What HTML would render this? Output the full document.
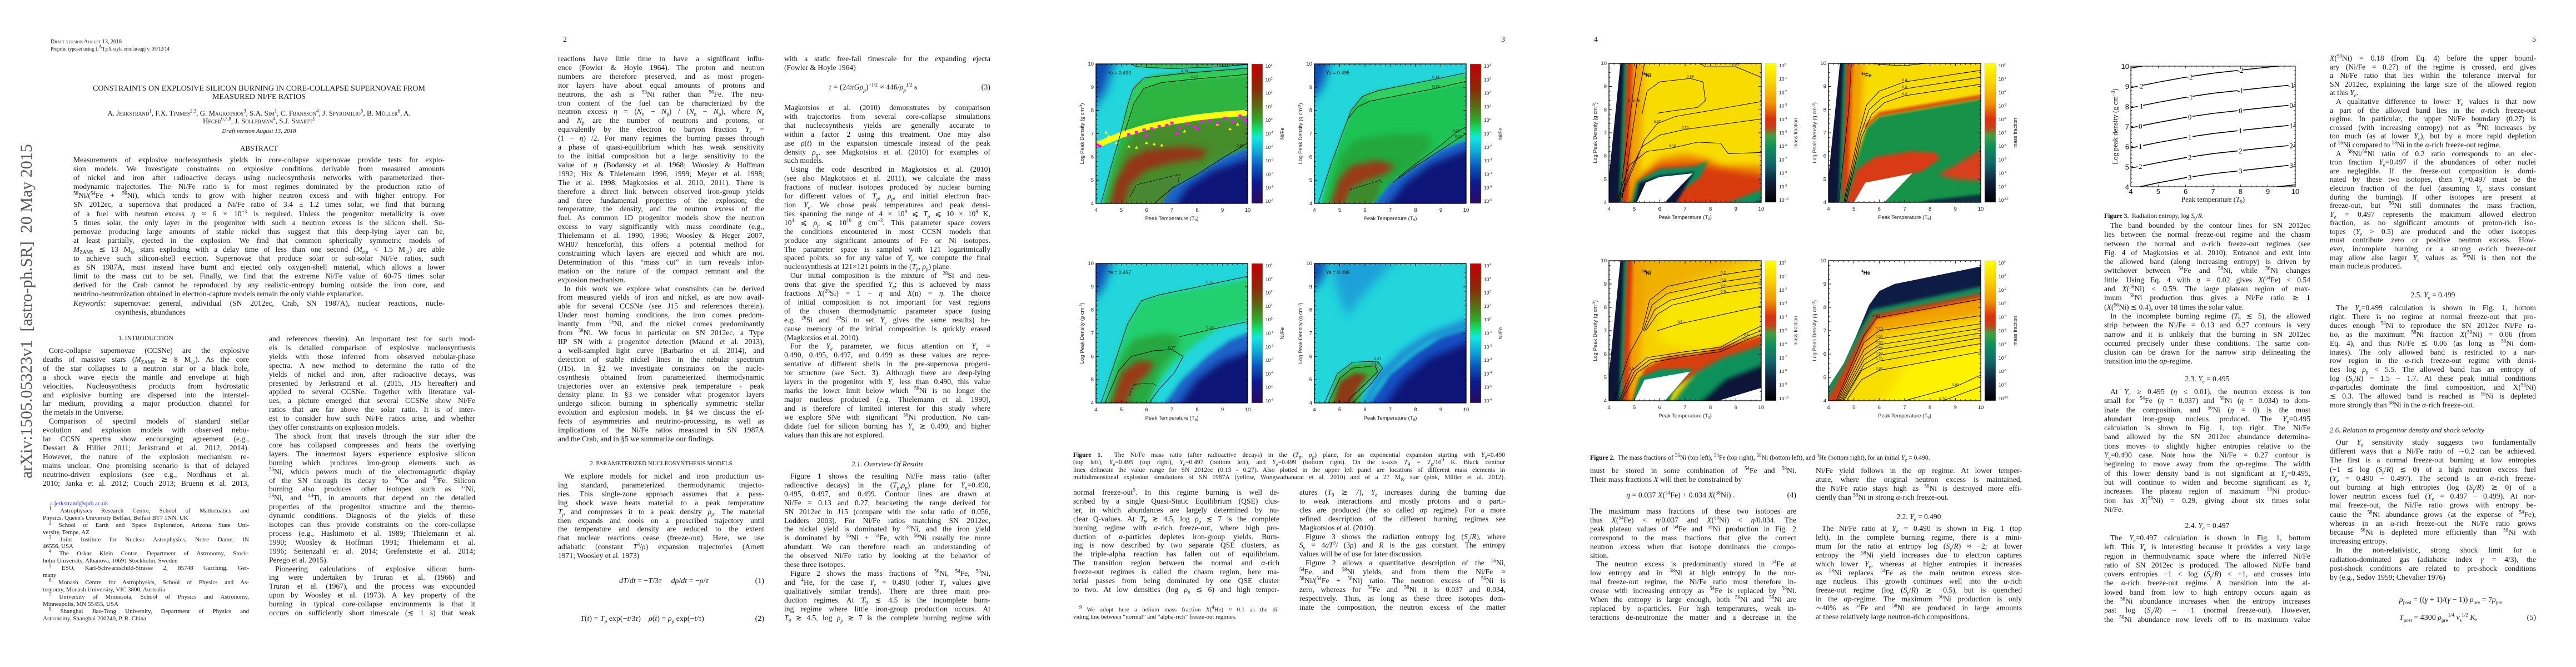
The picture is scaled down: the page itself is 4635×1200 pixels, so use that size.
<!DOCTYPE html>
<html><head><meta charset="utf-8">
<style>
body{margin:0;width:4635px;height:1200px;background:#fff;position:relative;overflow:hidden;font-family:"Liberation Serif",serif;color:#151515}
.c{position:absolute;width:371px;font-size:13.6px;line-height:15.9px;text-align:justify;text-align-last:justify}
.z{display:block;text-align-last:left}
.in{display:inline-block;width:11px}
.h{position:absolute;width:371px;text-align:center;font-size:12.5px;line-height:15px}
.cap{position:absolute;font-size:11.6px;line-height:13.4px;text-align:justify;text-align-last:justify}
.fn{position:absolute;width:371px;font-size:11px;line-height:12.9px;text-align:justify;text-align-last:justify}
.pn{position:absolute;top:64px;font-size:14px}
.eq{position:absolute;width:371px;font-size:14px;line-height:16px}
sup,sub{font-size:9px;line-height:0}
#charts{position:absolute;left:0;top:0;z-index:5}
</style></head><body>

<!-- ================= PAGE 1 ================= -->
<div>
<div style="position:absolute;left:48px;top:560px;transform:translate(-50%,-50%) rotate(-90deg);white-space:nowrap;font-size:30px;color:#555">arXiv:1505.05323v1&nbsp; [astro-ph.SR]&nbsp; 20 May 2015</div>
<div style="position:absolute;left:91px;top:70px;font-size:10px;line-height:12px;font-variant:small-caps">Draft version August 13, 2018<br><span style="font-size:9px;font-variant:normal">Preprint typeset using L<sup>A</sup>T<sub>E</sub>X style emulateapj v. 05/12/14</span></div>
<div style="position:absolute;left:0;width:932px;top:152px;text-align:center;font-size:14px;line-height:15px">CONSTRAINTS ON EXPLOSIVE SILICON BURNING IN CORE-COLLAPSE SUPERNOVAE FROM<br>MEASURED NI/FE RATIOS</div>
<div style="position:absolute;left:0;width:932px;top:197px;text-align:center;font-size:13px;line-height:13.5px;font-variant:small-caps">A. Jerkstrand<sup>1</sup>, F.X. Timmes<sup>2,3</sup>, G. Magkotsios<sup>3</sup>, S.A. Sim<sup>1</sup>, C. Fransson<sup>4</sup>, J. Spyromilio<sup>5</sup>, B. Müller<sup>6</sup>, A.<br>Heger<sup>6,7,8</sup>, J. Sollerman<sup>4</sup>, S.J. Smartt<sup>1</sup></div>
<div style="position:absolute;left:0;width:932px;top:230px;text-align:center;font-size:11px;font-style:italic">Draft version August 13, 2018</div>
<div style="position:absolute;left:0;width:932px;top:259px;text-align:center;font-size:13px">ABSTRACT</div>
<div class="c" style="left:132px;top:280px;width:668px;line-height:16.1px">Measurements of explosive nucleosynthesis yields in core-collapse supernovae provide tests for explo-<br>sion models. We investigate constraints on explosive conditions derivable from measured amounts<br>of nickel and iron after radioactive decays using nucleosynthesis networks with parameterized ther-<br>modynamic trajectories. The Ni/Fe ratio is for most regimes dominated by the production ratio of<br><sup>58</sup>Ni/(<sup>54</sup>Fe + <sup>56</sup>Ni), which tends to grow with higher neutron excess and with higher entropy. For<br>SN 2012ec, a supernova that produced a Ni/Fe ratio of 3.4 ± 1.2 times solar, we find that burning<br>of a fuel with neutron excess <i>η</i> ≈ 6 × 10<sup>−3</sup> is required. Unless the progenitor metallicity is over<br>5 times solar, the only layer in the progenitor with such a neutron excess is the silicon shell. Su-<br>pernovae producing large amounts of stable nickel thus suggest that this deep-lying layer can be,<br>at least partially, ejected in the explosion. We find that common spherically symmetric models of<br><i>M</i><sub>ZAMS</sub> ≲ 13 M<sub>⊙</sub> stars exploding with a delay time of less than one second (<i>M</i><sub>cut</sub> &lt; 1.5 M<sub>⊙</sub>) are able<br>to achieve such silicon-shell ejection. Supernovae that produce solar or sub-solar Ni/Fe ratios, such<br>as SN 1987A, must instead have burnt and ejected only oxygen-shell material, which allows a lower<br>limit to the mass cut to be set. Finally, we find that the extreme Ni/Fe value of 60-75 times solar<br>derived for the Crab cannot be reproduced by any realistic-entropy burning outside the iron core, and<br><span class="z">neutrino-neutronization obtained in electron-capture models remain the only viable explanation.</span><i>Keywords:</i> supernovae: general, individual (SN 2012ec, Crab, SN 1987A), nuclear reactions, nucle-<br><span class="z" style="padding-left:75px">osynthesis, abundances</span></div>
<div class="h" style="left:77px;top:602px;font-size:11.5px">1. INTRODUCTION</div>
<div class="c" style="left:77px;top:623px"><span class="in"></span>Core-collapse supernovae (CCSNe) are the explosive<br>deaths of massive stars (<i>M</i><sub>ZAMS</sub> ≳ 8 M<sub>⊙</sub>). As the core<br>of the star collapses to a neutron star or a black hole,<br>a shock wave ejects the mantle and envelope at high<br>velocities. Nucleosynthesis products from hydrostatic<br>and explosive burning are dispersed into the interstel-<br>lar medium, providing a major production channel for<br><span class="z">the metals in the Universe.</span><span class="in"></span>Comparison of spectral models of standard stellar<br>evolution and explosion models with observed nebu-<br>lar CCSN spectra show encouraging agreement (e.g.,<br>Dessart &amp; Hillier 2011; Jerkstrand et al. 2012, 2014).<br>However, the nature of the explosion mechanism re-<br>mains unclear. One promising scenario is that of delayed<br>neutrino-driven explosions (see e.g., Nordhaus et al.<br>2010; Janka et al. 2012; Couch 2013; Bruenn et al. 2013,</div>
<div class="fn" style="left:77px;top:900px"><span class="z" style="color:#2233bb;padding-left:13px">a.jerkstrand@qub.ac.uk</span><span class="in"></span><sup>1</sup> Astrophysics Research Centre, School of Mathematics and<br><span class="z">Physics, Queen's University Belfast, Belfast BT7 1NN, UK</span><span class="in"></span><sup>2</sup> School of Earth and Space Exploration, Arizona State Uni-<br><span class="z">versity, Tempe, AZ</span><span class="in"></span><sup>3</sup> Joint Institute for Nuclear Astrophysics, Notre Dame, IN<br><span class="z">46556, USA</span><span class="in"></span><sup>4</sup> The Oskar Klein Centre, Department of Astronomy, Stock-<br><span class="z">holm University, Albanova, 10691 Stockholm, Sweden</span><span class="in"></span><sup>5</sup> ESO, Karl-Schwarzschild-Strasse 2, 85748 Garching, Ger-<br><span class="z">many</span><span class="in"></span><sup>6</sup> Monash Centre for Astrophysics, School of Physics and As-<br><span class="z">tronomy, Monash University, VIC 3800, Australia</span><span class="in"></span><sup>7</sup> University of Minnesota, School of Physics and Astronomy,<br><span class="z">Minneapolis, MN 55455, USA</span><span class="in"></span><sup>8</sup> Shanghai Jiao-Tong University, Department of Physics and<br><span class="z">Astronomy, Shanghai 200240, P. R. China</span></div>
<div class="c" style="left:484px;top:602px">and references therein). An important test for such mod-<br>els is detailed comparison of explosive nucleosynthesis<br>yields with those inferred from observed nebular-phase<br>spectra. A new method to determine the ratio of the<br>yields of nickel and iron, after radioactive decays, was<br>presented by Jerkstrand et al. (2015, J15 hereafter) and<br>applied to several CCSNe. Together with literature val-<br>ues, a picture emerged that several CCSNe show Ni/Fe<br>ratios that are far above the solar ratio. It is of inter-<br>est to consider how such Ni/Fe ratios arise, and whether<br><span class="z">they offer constraints on explosion models.</span><span class="in"></span>The shock front that travels through the star after the<br>core has collapsed compresses and heats the overlying<br>layers. The innermost layers experience explosive silicon<br>burning which produces iron-group elements such as<br><sup>56</sup>Ni, which powers much of the electromagnetic display<br>of the SN through its decay to <sup>56</sup>Co and <sup>56</sup>Fe. Silicon<br>burning also produces other isotopes such as <sup>57</sup>Ni,<br><sup>58</sup>Ni, and <sup>44</sup>Ti, in amounts that depend on the detailed<br>properties of the progenitor structure and the thermo-<br>dynamic conditions. Diagnosis of the yields of these<br>isotopes can thus provide constraints on the core-collapse<br>process (e.g., Hashimoto et al. 1989; Thielemann et al.<br>1990; Woosley &amp; Hoffman 1991; Thielemann et al.<br>1996; Seitenzahl et al. 2014; Grefenstette et al. 2014;<br><span class="z">Perego et al. 2015).</span><span class="in"></span>Pioneering calculations of explosive silicon burn-<br>ing were undertaken by Truran et al. (1966) and<br>Truran et al. (1967), and the process was expounded<br>upon by Woosley et al. (1973). A key property of the<br>burning in typical core-collapse environments is that it<br>occurs on sufficiently short timescale (≲ 1 s) that weak</div>
</div>

<!-- ================= PAGE 2 ================= -->
<div>
<div class="pn" style="left:1013px">2</div>
<div class="c" style="left:1004px;top:98px">reactions have little time to have a significant influ-<br>ence (Fowler &amp; Hoyle 1964). The proton and neutron<br>numbers are therefore preserved, and as most progen-<br>itor layers have about equal amounts of protons and<br>neutrons, the ash is <sup>56</sup>Ni rather than <sup>56</sup>Fe. The neu-<br>tron content of the fuel can be characterized by the<br>neutron excess <i>η</i> = (<i>N</i><sub>n</sub> − <i>N</i><sub>p</sub>) / (<i>N</i><sub>n</sub> + <i>N</i><sub>p</sub>), where <i>N</i><sub>n</sub><br>and <i>N</i><sub>p</sub> are the number of neutrons and protons, or<br>equivalently by the electron to baryon fraction <i>Y<sub>e</sub></i> =<br>(1 − <i>η</i>) /2. For many regimes the burning passes through<br>a phase of quasi-equilibrium which has weak sensitivity<br>to the initial composition but a large sensitivity to the<br>value of <i>η</i> (Bodansky et al. 1968; Woosley &amp; Hoffman<br>1992; Hix &amp; Thielemann 1996, 1999; Meyer et al. 1998;<br>The et al. 1998; Magkotsios et al. 2010, 2011). There is<br>therefore a direct link between observed iron-group yields<br>and three fundamental properties of the explosion; the<br>temperature, the density, and the neutron excess of the<br>fuel. As common 1D progenitor models show the neutron<br>excess to vary significantly with mass coordinate (e.g.,<br>Thielemann et al. 1990, 1996; Woosley &amp; Heger 2007,<br>WH07 henceforth), this offers a potential method for<br>constraining which layers are ejected and which are not.<br>Determination of this “mass cut” in turn reveals infor-<br>mation on the nature of the compact remnant and the<br><span class="z">explosion mechanism.</span><span class="in"></span>In this work we explore what constraints can be derived<br>from measured yields of iron and nickel, as are now avail-<br>able for several CCSNe (see J15 and references therein).<br>Under most burning conditions, the iron comes predom-<br>inantly from <sup>56</sup>Ni, and the nickel comes predominantly<br>from <sup>58</sup>Ni. We focus in particular on SN 2012ec, a Type<br>IIP SN with a progenitor detection (Maund et al. 2013),<br>a well-sampled light curve (Barbarino et al. 2014), and<br>detection of stable nickel lines in the nebular spectrum<br>(J15). In §2 we investigate constraints on the nucle-<br>osynthesis obtained from parameterized thermodynamic<br>trajectories over an extensive peak temperature - peak<br>density plane. In §3 we consider what progenitor layers<br>undergo silicon burning in spherically symmetric stellar<br>evolution and explosion models. In §4 we discuss the ef-<br>fects of asymmetries and neutrino-processing, as well as<br>implications of the Ni/Fe ratios measured in SN 1987A<br><span class="z">and the Crab, and in §5 we summarize our findings.</span></div>
<div class="h" style="left:1004px;top:827px;font-size:11px">2. PARAMETERIZED NUCLEOSYNTHESIS MODELS</div>
<div class="c" style="left:1004px;top:849px"><span class="in"></span>We explore models for nickel and iron production us-<br>ing standard, parameterized thermodynamic trajecto-<br>ries. This single-zone approach assumes that a pass-<br>ing shock wave heats material to a peak temperature<br><i>T<sub>p</sub></i> and compresses it to a peak density <i>ρ<sub>p</sub></i>. The material<br>then expands and cools on a prescribed trajectory until<br>the temperature and density are reduced to the extent<br>that nuclear reactions cease (freeze-out). Here, we use<br>adiabatic (constant <i>T</i><sup>3</sup>/<i>ρ</i>) expansion trajectories (Arnett<br><span class="z">1971; Woosley et al. 1973)</span></div>
<div class="eq" style="left:1004px;top:1038px"><span style="position:absolute;left:110px"><i>dT</i>/<i>dt</i> = −<i>T</i>/3<i>τ</i> &nbsp;&nbsp;&nbsp; <i>dρ</i>/<i>dt</i> = −<i>ρ</i>/<i>τ</i></span><span style="position:absolute;right:0">(1)</span></div>
<div class="eq" style="left:1004px;top:1106px"><span style="position:absolute;left:40px"><i>T</i>(<i>t</i>) = <i>T<sub>p</sub></i> exp(−<i>t</i>/3<i>τ</i>) &nbsp;&nbsp; <i>ρ</i>(<i>t</i>) = <i>ρ<sub>p</sub></i> exp(−<i>t</i>/<i>τ</i>)</span><span style="position:absolute;right:0">(2)</span></div>
<div class="c" style="left:1411px;top:98px">with a static free-fall timescale for the expanding ejecta<br><span class="z">(Fowler &amp; Hoyle 1964)</span></div>
<div class="eq" style="left:1411px;top:150px"><span style="position:absolute;left:80px"><i>τ</i> = (24<i>πGρ<sub>p</sub></i>)<sup>−1/2</sup> ≈ 446/<i>ρ<sub>p</sub></i><sup>1/2</sup> s</span><span style="position:absolute;right:0">(3)</span></div>
<div class="c" style="left:1411px;top:186px">Magkotsios et al. (2010) demonstrates by comparison<br>with trajectories from several core-collapse simulations<br>that nucleosynthesis yields are generally accurate to<br>within a factor 2 using this treatment. One may also<br>use <i>ρ</i>(<i>t</i>) in the expansion timescale instead of the peak<br>density <i>ρ<sub>p</sub></i>, see Magkotsios et al. (2010) for examples of<br><span class="z">such models.</span><span class="in"></span>Using the code described in Magkotsios et al. (2010)<br>(see also Magkotsios et al. 2011), we calculate the mass<br>fractions of nuclear isotopes produced by nuclear burning<br>for different values of <i>T<sub>p</sub></i>, <i>ρ<sub>p</sub></i>, and initial electron frac-<br>tion <i>Y<sub>e</sub></i>. We chose peak temperatures and peak densi-<br>ties spanning the range of 4 × 10<sup>9</sup> ⩽ <i>T<sub>p</sub></i> ⩽ 10 × 10<sup>9</sup> K,<br>10<sup>4</sup> ⩽ <i>ρ<sub>p</sub></i> ⩽ 10<sup>10</sup> g cm<sup>−3</sup>. This parameter space covers<br>the conditions encountered in most CCSN models that<br>produce any significant amounts of Fe or Ni isotopes.<br>The parameter space is sampled with 121 logaritmically<br>spaced points, so for any value of <i>Y<sub>e</sub></i> we compute the final<br><span class="z">nucleosynthesis at 121×121 points in the (<i>T<sub>p</sub></i>, <i>ρ<sub>p</sub></i>) plane.</span><span class="in"></span>Our initial composition is the mixture of <sup>28</sup>Si and neu-<br>trons that give the specified <i>Y<sub>e</sub></i>; this is achieved by mass<br>fractions <i>X</i>(<sup>28</sup>Si) = 1 − <i>η</i> and <i>X</i>(n) = <i>η</i>. The choice<br>of initial composition is not important for vast regions<br>of the chosen thermodynamic parameter space (using<br>e.g. <sup>28</sup>Si and <sup>29</sup>Si to set <i>Y<sub>e</sub></i> gives the same results) be-<br>cause memory of the initial composition is quickly erased<br><span class="z">(Magkotsios et al. 2010).</span><span class="in"></span>For the <i>Y<sub>e</sub></i> parameter, we focus attention on <i>Y<sub>e</sub></i> =<br>0.490, 0.495, 0.497, and 0.499 as these values are repre-<br>sentative of different shells in the pre-supernova progeni-<br>tor structure (see Sect. 3). Although there are deep-lying<br>layers in the progenitor with <i>Y<sub>e</sub></i> less than 0.490, this value<br>marks the lower limit below which <sup>56</sup>Ni is no longer the<br>major nucleus produced (e.g. Thielemann et al. 1990),<br>and is therefore of limited interest for this study where<br>we explore SNe with significant <sup>56</sup>Ni production. No can-<br>didate fuel for silicon burning has <i>Y<sub>e</sub></i> ≳ 0.499, and higher<br><span class="z">values than this are not explored.</span></div>
<div class="h" style="left:1411px;top:827px;font-style:italic;font-size:13px">2.1. Overview Of Results</div>
<div class="c" style="left:1411px;top:849px"><span class="in"></span>Figure 1 shows the resulting Ni/Fe mass ratio (after<br>radioactive decays) in the (<i>T<sub>p</sub></i>,<i>ρ<sub>p</sub></i>) plane for <i>Y<sub>e</sub></i>=0.490,<br>0.495, 0.497, and 0.499. Contour lines are drawn at<br>Ni/Fe = 0.13 and 0.27, bracketing the range derived for<br>SN 2012ec in J15 (compare with the solar ratio of 0.056,<br>Lodders 2003). For Ni/Fe ratios matching SN 2012ec,<br>the nickel yield is dominated by <sup>58</sup>Ni, and the iron yield<br>is dominated by <sup>56</sup>Ni + <sup>54</sup>Fe, with <sup>56</sup>Ni usually the more<br>abundant. We can therefore reach an understanding of<br>the observed Ni/Fe ratio by looking at the behavior of<br><span class="z">these three isotopes.</span><span class="in"></span>Figure 2 shows the mass fractions of <sup>56</sup>Ni, <sup>54</sup>Fe, <sup>58</sup>Ni,<br>and <sup>4</sup>He, for the case <i>Y<sub>e</sub></i> = 0.490 (other <i>Y<sub>e</sub></i> values give<br>qualitatively similar trends). There are three main pro-<br>duction regimes. At <i>T</i><sub>9</sub> ≲ 4.5 is the incomplete burn-<br>ing regime where little iron-group production occurs. At<br><i>T</i><sub>9</sub> ≳ 4.5, log <i>ρ<sub>p</sub></i> ≳ 7 is the complete burning regime with</div>
</div>

<!-- ================= PAGE 3 ================= -->
<div>
<div class="pn" style="left:2701px">3</div>
<div class="cap" style="left:1931px;top:812px;width:777px"><b>Figure 1.</b>&nbsp; The Ni/Fe mass ratio (after radioactive decays) in the (<i>T<sub>p</sub></i>, <i>ρ<sub>p</sub></i>) plane, for an exponential expansion starting with <i>Y<sub>e</sub></i>=0.490<br>(top left), <i>Y<sub>e</sub></i>=0.495 (top right), <i>Y<sub>e</sub></i>=0.497 (bottom left), and <i>Y<sub>e</sub></i>=0.499 (bottom right). On the x-axis <i>T</i><sub>9</sub> = <i>T<sub>p</sub></i>/10<sup>9</sup> K. Black contour<br>lines delineate the value range for SN 2012ec (0.13 - 0.27). Also plotted in the upper left panel are locations of different mass elements in<br>multidimensional explosion simulations of SN 1987A (yellow, Wongwathanarat et al. 2010) and of a 27 M<sub>⊙</sub> star (pink, Müller et al. 2012).</div>
<div class="c" style="left:1931px;top:878px">normal freeze-out<sup style="color:#2233bb">9</sup>. In this regime burning is well de-<br>scribed by a single Quasi-Static Equilibrium (QSE) clus-<br>ter, in which abundances are largely determined by nu-<br>clear Q-values. At <i>T</i><sub>9</sub> ≳ 4.5, log <i>ρ<sub>p</sub></i> ≲ 7 is the complete<br>burning regime with <i>α</i>-rich freeze-out, where high pro-<br>duction of <i>α</i>-particles depletes iron-group yields. Burn-<br>ing is now described by two separate QSE clusters, as<br>the triple-alpha reaction has fallen out of equilibrium.<br>The transition region between the normal and <i>α</i>-rich<br>freeze-out regimes is called the chasm region, here ma-<br>terial passes from being dominated by one QSE cluster<br>to two. At low densities (log <i>ρ<sub>p</sub></i> ≲ 6) and high temper-</div>
<div class="fn" style="left:1931px;top:1091px"><span class="in"></span><sup>9</sup> We adopt here a helium mass fraction <i>X</i>(<sup>4</sup>He) ≈ 0.1 as the di-<br><span class="z">viding line between “normal” and “alpha-rich” freeze-out regimes.</span></div>
<div class="c" style="left:2338px;top:878px">atures (<i>T</i><sub>9</sub> ≳ 7), <i>Y<sub>e</sub></i> increases during the burning due<br>to weak interactions and mostly protons and <i>α</i> parti-<br>cles are produced (the so called <i>αp</i> regime). For a more<br>refined description of the different burning regimes see<br><span class="z">Magkotsios et al. (2010).</span><span class="in"></span>Figure 3 shows the radiation entropy log (<i>S<sub>γ</sub></i>/<i>R</i>), where<br><i>S<sub>γ</sub></i> = 4<i>aT</i><sup>3</sup>/ (3<i>ρ</i>) and <i>R</i> is the gas constant. The entropy<br><span class="z">values will be of use for later discussion.</span><span class="in"></span>Figure 2 allows a quantitative description of the <sup>56</sup>Ni,<br><sup>54</sup>Fe, and <sup>58</sup>Ni yields, and from them the Ni/Fe ≈<br><sup>58</sup>Ni/(<sup>54</sup>Fe + <sup>56</sup>Ni) ratio. The neutron excess of <sup>56</sup>Ni is<br>zero, whereas for <sup>54</sup>Fe and <sup>58</sup>Ni it is 0.037 and 0.034,<br>respectively. Thus, as long as these three isotopes dom-<br>inate the composition, the neutron excess of the matter</div>
</div>

<!-- ================= PAGE 4 ================= -->
<div>
<div class="pn" style="left:2868px">4</div>
<div class="cap" style="left:2861px;top:817px;width:800px;text-align-last:left"><b>Figure 2.</b>&nbsp; The mass fractions of <sup>56</sup>Ni (top left), <sup>54</sup>Fe (top right), <sup>58</sup>Ni (bottom left), and <sup>4</sup>He (bottom right), for an initial <i>Y<sub>e</sub></i> = 0.490.</div>
<div class="c" style="left:2861px;top:839px">must be stored in some combination of <sup>54</sup>Fe and <sup>58</sup>Ni.<br><span class="z">Their mass fractions <i>X</i> will then be constrained by</span></div>
<div class="eq" style="left:2861px;top:884px"><span style="position:absolute;left:65px"><i>η</i> = 0.037 <i>X</i>(<sup>54</sup>Fe) + 0.034 <i>X</i>(<sup>58</sup>Ni) .</span><span style="position:absolute;right:0">(4)</span></div>
<div class="c" style="left:2861px;top:912px">The maximum mass fractions of these two isotopes are<br>thus <i>X</i>(<sup>54</sup>Fe) &lt; <i>η</i>/0.037 and <i>X</i>(<sup>58</sup>Ni) &lt; <i>η</i>/0.034. The<br>peak plateau values of <sup>54</sup>Fe and <sup>58</sup>Ni production in Fig. 2<br>correspond to the mass fractions that give the correct<br>neutron excess when that isotope dominates the compo-<br><span class="z">sition.</span><span class="in"></span>The neutron excess is predominantly stored in <sup>54</sup>Fe at<br>low entropy and in <sup>58</sup>Ni at high entropy. In the nor-<br>mal freeze-out regime, the Ni/Fe ratio must therefore in-<br>crease with increasing entropy as <sup>54</sup>Fe is replaced by <sup>58</sup>Ni.<br>When the entropy is large enough, both <sup>56</sup>Ni and <sup>58</sup>Ni are<br>replaced by <i>α</i>-particles. For high temperatures, weak in-<br>teractions de-neutronize the matter and a decrease in the</div>
<div class="c" style="left:3267px;top:839px">Ni/Fe yield follows in the <i>αp</i> regime. At lower temper-<br>ature, where the original neutron excess is maintained,<br>the Ni/Fe ratio stays high as <sup>56</sup>Ni is destroyed more effi-<br><span class="z">ciently than <sup>58</sup>Ni in strong <i>α</i>-rich freeze-out.</span></div>
<div class="h" style="left:3267px;top:922px;font-size:13.5px">2.2. <i>Y<sub>e</sub></i> = 0.490</div>
<div class="c" style="left:3267px;top:943px"><span class="in"></span>The Ni/Fe ratio at <i>Y<sub>e</sub></i> = 0.490 is shown in Fig. 1 (top<br>left). In the complete burning regime, there is a mini-<br>mum for the ratio at entropy log (<i>S<sub>γ</sub></i>/<i>R</i>) ≈ −2; at lower<br>entropy the <sup>58</sup>Ni yield increases due to electron captures<br>which lower <i>Y<sub>e</sub></i>, whereas at higher entropies it increases<br>as <sup>58</sup>Ni replaces <sup>54</sup>Fe as the main neutron excess stor-<br>age nucleus. This growth continues well into the <i>α</i>-rich<br>freeze-out regime (log (<i>S<sub>γ</sub></i>/<i>R</i>) ≳ +0.5), but is quenched<br>in the <i>αp</i>-regime. The maximum <sup>56</sup>Ni production is only<br>∼40% as <sup>54</sup>Fe and <sup>58</sup>Ni are produced in large amounts<br><span class="z">at these relatively large neutron-rich compositions.</span></div>
</div>

<!-- ================= PAGE 5 ================= -->
<div>
<div class="pn" style="left:4556px">5</div>
<div class="cap" style="left:3786px;top:382px;width:371px;text-align-last:left"><b>Figure 3.</b>&nbsp; Radiation entropy, log <i>S<sub>γ</sub></i>/<i>R</i>.</div>
<div class="c" style="left:3786px;top:398px;line-height:16.3px"><span class="in"></span>The band bounded by the contour lines for SN 2012ec<br>lies between the normal freeze-out regime and the chasm<br>between the normal and <i>α</i>-rich freeze-out regimes (see<br>Fig. 4 of Magkotsios et al. 2010). Entrance and exit into<br>the allowed band (along increasing entropy) is driven by<br>switchover between <sup>54</sup>Fe and <sup>58</sup>Ni, while <sup>56</sup>Ni changes<br>little. Using Eq. 4 with <i>η</i> = 0.02 gives <i>X</i>(<sup>54</sup>Fe) &lt; 0.54<br>and <i>X</i>(<sup>58</sup>Ni) &lt; 0.59. The large plateau region of max-<br>imum <sup>58</sup>Ni production thus gives a Ni/Fe ratio ≳ <b>1</b><br><span class="z">(<i>X</i>(<sup>56</sup>Ni) ≲ 0.4), over 18 times the solar value.</span><span class="in"></span>In the incomplete burning regime (<i>T</i><sub>9</sub> ≲ 5), the allowed<br>strip between the Ni/Fe = 0.13 and 0.27 contours is very<br>narrow and it is unlikely that the burning in SN 2012ec<br>occurred precisely under these conditions. The same con-<br>clusion can be drawn for the narrow strip delineating the<br><span class="z">transition into the <i>αp</i>-regime.</span></div>
<div class="h" style="left:3786px;top:674px;font-size:13.5px">2.3. <i>Y<sub>e</sub></i> = 0.495</div>
<div class="c" style="left:3786px;top:697px;line-height:16.3px"><span class="in"></span>At <i>Y<sub>e</sub></i> ≥ 0.495 (<i>η</i> ≤ 0.01), the neutron excess is too<br>small for <sup>54</sup>Fe (<i>η</i> = 0.037) and <sup>58</sup>Ni (<i>η</i> = 0.034) to dom-<br>inate the composition, and <sup>56</sup>Ni (<i>η</i> = 0) is the most<br>abundant iron-group nucleus produced. The <i>Y<sub>e</sub></i>=0.495<br>calculation is shown in Fig. 1, top right. The Ni/Fe<br>band allowed by the SN 2012ec abundance determina-<br>tions moves to slightly higher entropies relative to the<br><i>Y<sub>e</sub></i>=0.490 case. Note how the Ni/Fe = 0.27 contour is<br>beginning to move away from the <i>αp</i>-regime. The width<br>of this lower density band is not significant at <i>Y<sub>e</sub></i>=0.495,<br>but will continue to widen and become significant as <i>Y<sub>e</sub></i><br>increases. The plateau region of maximum <sup>58</sup>Ni produc-<br>tion has <i>X</i>(<sup>58</sup>Ni) = 0.29, giving about six times solar<br><span class="z">Ni/Fe.</span></div>
<div class="h" style="left:3786px;top:938px;font-size:13.5px">2.4. <i>Y<sub>e</sub></i> = 0.497</div>
<div class="c" style="left:3786px;top:960px;line-height:16.3px"><span class="in"></span>The <i>Y<sub>e</sub></i>=0.497 calculation is shown in Fig. 1, bottom<br>left. This <i>Y<sub>e</sub></i> is interesting because it provides a very large<br>region in thermodynamic space where the inferred Ni/Fe<br>ratio of SN 2012ec is produced. The allowed Ni/Fe band<br>covers entropies −1 &lt; log (<i>S<sub>γ</sub></i>/<i>R</i>) &lt; +1, and crosses into<br>the <i>α</i>-rich freeze-out regime. A transition into the al-<br>lowed band from low to high entropy occurs again as<br>the <sup>58</sup>Ni abundance increases when the entropy increases<br>past log (<i>S<sub>γ</sub></i>/<i>R</i>) ∼ −1 (normal freeze-out). However,<br>the <sup>58</sup>Ni abundance now levels off to its maximum value</div>
<div class="c" style="left:4192px;top:97px;line-height:15.6px"><i>X</i>(<sup>58</sup>Ni) = 0.18 (from Eq. 4) before the upper bound-<br>ary (Ni/Fe = 0.27) of the regime is crossed, and gives<br>a Ni/Fe ratio that lies within the tolerance interval for<br>SN 2012ec, explaining the large size of the allowed region<br><span class="z">at this <i>Y<sub>e</sub></i>.</span><span class="in"></span>A qualitative difference to lower <i>Y<sub>e</sub></i> values is that now<br>a part of the allowed band lies in the <i>α</i>-rich freeze-out<br>regime. In particular, the upper Ni/Fe boundary (0.27) is<br>crossed (with increasing entropy) not as <sup>58</sup>Ni increases by<br>too much (as at lower <i>Y<sub>e</sub></i>), but by a more rapid depletion<br><span class="z">of <sup>56</sup>Ni compared to <sup>58</sup>Ni in the <i>α</i>-rich freeze-out regime.</span><span class="in"></span>A <sup>58</sup>Ni/<sup>56</sup>Ni ratio of 0.2 ratio corresponds to an elec-<br>tron fraction <i>Y<sub>e</sub></i>=0.497 if the abundances of other nuclei<br>are neglegible. If the freeze-out composition is domi-<br>nated by these two isotopes, then <i>Y<sub>e</sub></i>=0.497 must be the<br>electron fraction of the fuel (assuming <i>Y<sub>e</sub></i> stays constant<br>during the burning). If other isotopes are present at<br>freeze-out, but <sup>56</sup>Ni still dominates the mass fraction,<br><i>Y<sub>e</sub></i> = 0.497 represents the maximum allowed electron<br>fraction, as no significant amounts of proton-rich iso-<br>topes (<i>Y<sub>e</sub></i> &gt; 0.5) are produced and the other isotopes<br>must contribute zero or positive neutron excess. How-<br>ever, incomplete burning or a strong <i>α</i>-rich freeze-out<br>may allow also larger <i>Y<sub>e</sub></i> values as <sup>56</sup>Ni is then not the<br><span class="z">main nucleus produced.</span></div>
<div class="h" style="left:4192px;top:523px;font-size:13.5px">2.5. <i>Y<sub>e</sub></i> = 0.499</div>
<div class="c" style="left:4192px;top:546px"><span class="in"></span>The <i>Y<sub>e</sub></i>=0.499 calculation is shown in Fig. 1, bottom<br>right. There is no regime at normal freeze-out that pro-<br>duces enough <sup>58</sup>Ni to reproduce the SN 2012ec Ni/Fe ra-<br>tio, as the maximum <sup>58</sup>Ni fraction <i>X</i>(<sup>58</sup>Ni) = 0.06 (from<br>Eq. 4), and thus Ni/Fe ≲ 0.06 (as long as <sup>56</sup>Ni dom-<br>inates). The only allowed band is restricted to a nar-<br>row region in the <i>α</i>-rich freeze-out regime with densi-<br>ties log <i>ρ<sub>p</sub></i> &lt; 5.5. The allowed band has an entropy of<br>log (<i>S<sub>γ</sub></i>/<i>R</i>) = 1.5 − 1.7. At these peak initial conditions<br><i>α</i>-particles dominate the final composition, and X(<sup>56</sup>Ni)<br>≲ 0.3. The allowed band is reached as <sup>56</sup>Ni is depleted<br><span class="z">more strongly than <sup>58</sup>Ni in the <i>α</i>-rich freeze-out.</span></div>
<div class="h" style="left:4192px;top:766px;font-style:italic;font-size:13px;text-align:left">2.6. Relation to progenitor density and shock velocity</div>
<div class="c" style="left:4192px;top:788px;line-height:16.2px"><span class="in"></span>Our <i>Y<sub>e</sub></i> sensitivity study suggests two fundamentally<br>different ways that a Ni/Fe ratio of ∼0.2 can be achieved.<br>The first is a normal freeze-out burning at low entropies<br>(−1 ≲ log (<i>S<sub>γ</sub></i>/<i>R</i>) ≲ 0) of a high neutron excess fuel<br>(<i>Y<sub>e</sub></i> = 0.490 − 0.497). The second is an <i>α</i>-rich freeze-<br>out burning at high entropies (log (<i>S<sub>γ</sub></i>/<i>R</i>) ≳ 0) of a<br>lower neutron excess fuel (<i>Y<sub>e</sub></i> = 0.497 − 0.499). At nor-<br>mal freeze-out, the Ni/Fe ratio grows with entropy be-<br>cause the <sup>58</sup>Ni abundance grows (at the expense of <sup>54</sup>Fe),<br>whereas in an <i>α</i>-rich freeze-out the Ni/Fe ratio grows<br>because <sup>56</sup>Ni is depleted more efficiently than <sup>58</sup>Ni with<br><span class="z">increasing entropy.</span><span class="in"></span>In the non-relativistic, strong shock limit for a<br>radiation-dominated gas (adiabatic index <i>γ</i> = 4/3), the<br>post-shock conditions are related to pre-shock conditions<br><span class="z">by (e.g., Sedov 1959; Chevalier 1976)</span></div>
<div class="eq" style="left:4192px;top:1072px"><span style="position:absolute;left:125px"><i>ρ</i><sub>post</sub> = ((<i>γ</i> + 1)/(<i>γ</i> − 1)) <i>ρ</i><sub>pre</sub> = 7<i>ρ</i><sub>pre</sub></span></div>
<div class="eq" style="left:4192px;top:1104px"><span style="position:absolute;left:125px"><i>T</i><sub>post</sub> = 4300 <i>ρ</i><sub>pre</sub><sup>1/4</sup> <i>v</i><sub>s</sub><sup>1/2</sup> <i>K</i>,</span><span style="position:absolute;right:0">(5)</span></div>
</div>

<svg id="charts" width="4635" height="1200" viewBox="0 0 4635 1200" xmlns="http://www.w3.org/2000/svg">
<defs>
<linearGradient id="cbNiFe" x1="0" y1="0" x2="0" y2="1">
<stop offset="0" stop-color="#c40000"/><stop offset="0.18" stop-color="#8a2a08"/><stop offset="0.3" stop-color="#5a6a14"/><stop offset="0.4" stop-color="#30a828"/><stop offset="0.47" stop-color="#10e070"/><stop offset="0.53" stop-color="#10e8e0"/><stop offset="0.63" stop-color="#10a8d8"/><stop offset="0.73" stop-color="#0a5cc0"/><stop offset="0.85" stop-color="#0c1a8c"/><stop offset="1" stop-color="#2a0a60"/>
</linearGradient>
<linearGradient id="cbMass" x1="0" y1="0" x2="0" y2="1">
<stop offset="0" stop-color="#ffff00"/><stop offset="0.15" stop-color="#f8d000"/><stop offset="0.28" stop-color="#f09a00"/><stop offset="0.4" stop-color="#d83010"/><stop offset="0.46" stop-color="#c84018"/><stop offset="0.52" stop-color="#40a040"/><stop offset="0.6" stop-color="#10905a"/><stop offset="0.72" stop-color="#106868"/><stop offset="0.85" stop-color="#10203c"/><stop offset="1" stop-color="#000000"/>
</linearGradient>
<filter id="b2" x="-20%" y="-20%" width="140%" height="140%"><feGaussianBlur stdDeviation="2"/></filter>
<filter id="b3" x="-20%" y="-20%" width="140%" height="140%"><feGaussianBlur stdDeviation="3"/></filter>
<filter id="b4" x="-20%" y="-20%" width="140%" height="140%"><feGaussianBlur stdDeviation="4"/></filter>
<filter id="b6" x="-30%" y="-30%" width="160%" height="160%"><feGaussianBlur stdDeviation="6"/></filter>
<filter id="b9" x="-30%" y="-30%" width="160%" height="160%"><feGaussianBlur stdDeviation="9"/></filter>
</defs>
</svg>

<script>
// ===== Axis ticks & colorbar labels =====
const T_TICKS=[4,5,6,7,8,9,10];
const RHO_TICKS=[4,5,6,7,8,9,10];
const CB_NIFE_EXP=['4','3','2','1','0','-1','-2','-3','-4','-5','-6'];
const CB_MASS_EXP=['0','-1','-2','-3','-4','-5','-6','-7','-8','-9','-10'];

// ===== Figure 1, Ye=0.490 (T9, log rho) =====
const A_corner=[[4,10],[4,7.6],[4.35,8.8],[4.8,10]];
const A_green=[[4.15,4],[4.6,5.5],[5.0,7.0],[5.3,8.3],[5.6,9.1],[6.2,9.5],[8,9.7],[10,9.85],[10,6.6],[9,5.95],[8,5.25],[7,4.65],[6.3,4]];
const A_light=[[5.0,7.1],[5.3,8.3],[5.6,9.1],[6.2,9.45],[8,9.62],[10,9.8],[10,9.5],[6.6,9.2],[5.9,8.95],[5.5,8.3],[5.15,7.1]];
const A_top=[[5.35,10],[5.6,9.88],[7,9.8],[9,9.88],[10,9.98],[10,10]];
const A_olive=[[4.45,4],[5.0,6.0],[5.5,7.1],[6.5,7.5],[10,7.7],[10,6.6],[9,5.95],[8,5.25],[7,4.65],[6.3,4]];
const A_red=[[4.45,4],[4.8,5.0],[5.3,5.9],[6,6.3],[7.5,6.45],[8.4,6.3],[8.2,5.95],[7,5.75],[6,5.45],[5.3,4.8],[5.0,4]];
const A_low=[[5.35,4],[5.6,4.8],[7.3,5.25],[7.1,4.6],[6.3,4]];
const A_navy=[[6.3,4],[7,4.65],[8,5.25],[9,5.95],[10,6.6],[10,4]];
const A_navyCore=[[6.9,4],[7.6,4.7],[8.6,5.4],[10,6.1],[10,4]];
const A_c013=[[4.2,4],[4.6,5.6],[5.0,7.1],[5.25,8.2],[5.45,8.9],[5.9,9.4],[7.5,9.6],[10,9.82]];
const A_c027=[[5.15,7.1],[5.5,8.3],[5.9,8.95],[6.6,9.2],[7.9,9.35],[10,9.55]];
const A_cTop=[[5.4,10],[5.6,9.88],[7,9.8],[9,9.88],[10,9.98]];
const A_cLow=[[6.3,4],[7,4.65],[8,5.25],[9,5.95],[9.7,6.4],[10,6.6]];
const A_cDash=[[5.35,4.3],[5.6,4.8],[7.3,5.25],[7.25,4.9]];
// scatter (simulation mass elements)
const BAND_T=[4,5,6,7,8,9,10];
const BAND_RHO=[6.5,6.95,7.28,7.52,7.7,7.82,7.9];
const PINK_T=[4.05,4.15,5.3,5.6,5.9,6.2,6.5,6.8,7.0,7.3,7.6,7.9,8.2,8.5,8.8,9.1,9.4,9.7,9.9,10.0,6.0,7.2,8.0];
const PINK_RHO=[6.5,6.45,6.95,7.05,7.15,7.2,7.3,7.35,7.45,7.25,7.4,7.3,7.5,7.55,7.45,7.65,7.5,7.75,7.6,7.45,6.9,7.0,7.2];
const YEL_T=[4.4,4.5,4.8,5.6,6.0,6.6,7.5,8.8,9.3,9.6,5.3,6.3];
const YEL_RHO=[7.05,6.9,6.6,6.4,6.6,6.5,7.1,7.4,7.2,7.4,6.45,6.55];

// ===== Figure 1, Ye=0.495 =====
const B_corner=[[4,10],[4,8],[4.3,9],[4.7,10]];
const B_green=[[4.15,4],[4.6,5.5],[5.1,7.0],[5.45,8.0],[5.9,8.6],[6.5,8.85],[10,9.62],[10,7.0],[9,6.3],[8,5.6],[7,4.85],[6,4]];
const B_upper=[[5.9,8.6],[6.5,8.85],[10,9.62],[10,9.25],[6.3,8.4]];
const B_inner=[[4.4,4],[5.0,6.0],[5.6,6.75],[7,7.0],[8.4,7.0],[8.7,6.6],[8,5.6],[7,4.85],[6,4]];
const B_red=[[4.5,4],[5,5.1],[5.5,5.65],[6.5,5.85],[7.2,5.65],[6.8,5.25],[6,4.95],[5.4,4.55],[5.05,4]];
const B_low=[[5.4,4.1],[5.6,4.75],[6.6,5.0],[6.5,4.4],[6,4]];
const B_navy=[[6,4],[7,4.85],[8,5.6],[9,6.3],[10,6.95],[10,4]];
const B_navyCore=[[6.6,4],[7.6,4.9],[8.6,5.7],[10,6.5],[10,4]];
const B_c013=[[4.15,4],[4.6,5.5],[5.1,7.0],[5.45,8.0],[5.9,8.6],[6.5,8.85],[8.8,9.35],[10,9.62]];
const B_c027=[[5.3,7.6],[5.7,8.15],[6.2,8.4],[8.8,8.95],[10,9.25]];
const B_cR1=[[7.1,4.9],[8,5.6],[9,6.3],[9.7,6.8],[10,7.0]];
const B_cR2=[[7.3,5.1],[8,5.7],[9,6.5],[9.6,7.05],[10,7.3]];
const B_cDash=[[5.4,4.6],[6.0,4.8],[6.6,5.0],[6.7,4.9]];

// ===== Figure 1, Ye=0.497 =====
const C_corner=[[4,10],[4,8],[4.3,9],[4.7,10]];
const C_green=[[4.2,4],[4.7,5.6],[5.25,7.4],[5.8,8.4],[6.5,8.65],[10,9.45],[10,7.7],[9,7.3],[8,6.6],[7,5.6],[6.3,4.6],[5.9,4]];
const C_inner=[[4.35,4],[5.0,6.0],[5.5,6.75],[6.6,7.0],[7.3,6.9],[7.2,6.3],[6.5,5.3],[5.9,4]];
const C_red=[[4.45,4],[5,5.3],[5.6,5.8],[6.3,5.8],[6.1,5.3],[5.4,4.6],[5.1,4]];
const C_navy=[[6.4,4],[7.4,5.0],[8.4,6.0],[9.3,6.7],[10,7.2],[10,4]];
const C_navyCore=[[7,4],[8,5.0],[9,5.8],[10,6.4],[10,4]];
const C_c013=[[4.2,4],[4.7,5.6],[5.25,7.4],[5.8,8.4],[6.5,8.65],[8.5,9.1],[10,9.45]];
const C_c027=[[4.35,4],[4.9,5.4],[5.4,6.0],[6.3,6.25],[7.0,6.3],[7.45,6.0],[7.1,5.3],[6.5,4.6],[6.1,4]];
const C_c013b=[[7.3,6.85],[8.5,7.15],[10,7.5]];
const C_cDash=[[5.3,4.3],[5.5,4.8],[6.2,4.85],[6.4,4.75]];

// ===== Figure 1, Ye=0.499 =====
const D_corner=[[4,10],[4,8.5],[4.3,9.3],[4.6,10]];
const D_wedge=[[4.6,10],[4.9,8.8],[5.3,7.7],[5.9,8.6],[6.6,9.4],[7.5,10]];
const D_band=[[5.6,4],[6.5,5.3],[7.5,6.3],[8.5,7.0],[10,7.8],[10,7.3],[8.5,6.6],[7.5,5.8],[6.6,4.8],[6.0,4]];
const D_navy=[[5.9,4],[7,5.2],[8,6.1],[9,6.8],[10,7.3],[10,4]];
const D_navyCore=[[6.5,4],[7.5,5.0],[8.5,5.9],[10,6.8],[10,4]];
const D_green=[[4.4,4],[4.9,5.2],[5.5,5.7],[6.5,5.75],[6.6,5.4],[6.0,4.7],[5.6,4]];
const D_red=[[4.6,4],[5.0,4.9],[5.6,5.3],[6.1,5.2],[5.7,4.6],[5.3,4]];
const D_c1=[[4.4,4],[4.9,5.25],[5.5,5.75],[6.5,5.8],[6.7,5.5],[6.3,4.9],[5.6,4.1],[5.5,4]];
const D_c2=[[4.55,4],[5.0,5.05],[5.5,5.5],[6.4,5.6],[6.5,5.35],[6.0,4.8],[5.4,4.2],[5.3,4]];

// ===== Figure 2 shared left-edge strips =====
const EDGE_orange=[[4,4],[5.15,4],[5.4,10],[4,10]];
const EDGE_red=[[4,4],[4.75,4],[4.95,10],[4,10]];
const EDGE_green=[[4,4],[4.5,4],[4.72,10],[4,10]];
const EDGE_navy=[[4,4],[4.38,4],[4.6,10],[4,10]];
const EDGE_white=[[4,5.1],[4.45,10],[4,10]];

// ===== Figure 2, 56Ni =====
const E_lowOrange=[[4.8,4],[5.3,5.2],[6.0,5.9],[7.0,6.1],[7.9,5.9],[8.4,5.6],[10,5.6],[10,4]];
const E_lowRed=[[4.8,4],[5.2,5.0],[6,5.6],[7.5,5.7],[8.1,5.5],[10,5.1],[10,4]];
const E_ring=[[4.75,4],[5.1,4.9],[6,5.45],[7.4,5.55],[7.9,5.8],[7.6,5.1],[6.5,4.2],[6.3,4]];
const E_navyRing=[[4.9,4],[5.2,4.85],[6.0,5.15],[7.35,5.3],[6.4,4]];
const E_hole=[[5.1,4],[5.45,4.85],[6.0,5.1],[7.3,5.25],[6.2,4]];
const E_brGreen=[[7.5,4],[10,4.75],[10,4]];
const E_brNavy=[[8.8,4],[10,4.35],[10,4]];
const E_c010=[[4.3,4],[4.8,5.6],[5.5,6.2],[6.5,6.35],[7.5,6.6],[8.4,6.55],[8.7,6.1],[10,6.15]];
const E_c030=[[4.35,4],[4.9,5.5],[5.3,6.4],[6,6.9],[7,7.15],[10,7.6]];
const E_c037=[[4.4,4],[5.0,5.6],[5.4,6.7],[5.9,7.4],[6.6,7.7],[10,8.35]];
const E_c039=[[5.3,7.8],[5.5,8.8],[6.0,9.2],[7.2,9.35],[7.7,9.2],[7.8,8.4],[7.5,8.1],[6.5,7.95],[5.9,7.85]];
const E_cTop=[[7.6,10],[7.8,9.85],[9,9.85],[10,9.4]];
const E_cS1=[[4.4,4],[4.9,8.3],[5.1,10]];
const E_cS2=[[4.5,4],[5.1,8.3],[5.4,10]];

// ===== Figure 2, 54Fe =====
const F_green=[[4.35,4],[5.0,5.5],[5.5,7.2],[6.0,7.7],[10,8.55],[10,4]];
const F_edge=[[5.5,7.2],[6.0,7.7],[10,8.55],[10,8.75],[6.0,7.9],[5.4,7.3]];
const F_red=[[4.55,4],[5.1,5.4],[5.8,5.95],[7.2,6.2],[8.2,6.15],[8.4,5.9],[7.7,5.35],[7.3,5.25],[6.3,4.8],[5.8,4.3],[5.7,4]];
const F_redR=[[8.3,5.2],[9,5.6],[10,6.6],[10,4.9],[9,5.0]];
const F_hole=[[5.0,4],[5.45,4.85],[7.3,5.25],[6.2,4]];
const F_br=[[6.2,4],[8,4.1],[10,4.4],[10,4]];
const F_c04=[[4.6,4],[5.2,7.0],[5.5,8.2],[6,8.8],[7,9.2],[10,9.7]];
const F_c03=[[4.65,4],[5.25,6.9],[5.6,8.0],[6.1,8.5],[7,8.9],[10,9.4]];
const F_c02=[[4.7,4],[5.3,6.8],[5.7,7.8],[6.2,8.3],[7,8.6],[10,9.1]];
const F_cTop=[[5.8,10],[6,9.95],[7,9.9],[7.8,10]];
const F_cS=[[4.4,4],[4.8,8],[4.9,10]];

// ===== Figure 2, 58Ni =====
const G_orangeTL=[[4,10],[4,6],[5.5,7.3],[6.2,8.5],[7.5,9.2],[10,10]];
const G_yellow=[[6,8.3],[10,9.0],[10,6.4],[8,6],[6,6.5]];
const G_red=[[4.75,4],[5.4,5.4],[6.3,5.9],[7.4,6.0],[8.4,6.3],[10,6.95],[10,6.2],[8.5,5.6],[7.4,5.1],[6.5,4.5],[6.2,4]];
const G_green=[[6.2,4],[7.4,5.2],[8.5,5.85],[10,6.55],[10,4]];
const G_navy=[[7.2,4],[8.6,4.9],[10,5.7],[10,4]];
const G_white=[[8.3,4],[10,4.55],[10,4]];
const G_ring=[[4.8,4],[5.2,5.0],[6,5.35],[7.3,5.4],[6.5,4.3],[6.2,4]];
const G_hole=[[5.0,4],[5.4,4.9],[7.2,5.25],[6.2,4]];
const G_c02=[[5.3,7.0],[5.6,8.3],[6.3,8.9],[8.5,9.4],[10,9.65]];
const G_c03=[[5.35,7.0],[5.7,8.1],[6.3,8.6],[8.5,9.1],[10,9.35]];
const G_c04=[[5.4,7.0],[5.8,7.9],[6.4,8.3],[8.5,8.85],[10,9.1]];
const G_c05=[[5.45,7.0],[5.9,7.7],[6.5,8.1],[8.5,8.6],[10,8.85]];
const G_c05b=[[5.9,7.0],[6.8,7.3],[8.5,7.7],[10,8.05]];
const G_cl1=[[4.4,4],[4.9,5.3],[5.5,5.85],[7,6.1],[8.4,6.3],[9.4,6.9],[10,7.2]];
const G_cl2=[[4.45,4],[5.0,5.25],[5.6,5.75],[7,6.0],[8.4,6.2],[9.4,6.75],[10,7.0]];
const G_cl3=[[4.5,4],[5.1,5.2],[5.7,5.65],[7,5.9],[8.4,6.1],[9.4,6.6],[10,6.85]];
const G_cS=[[4.2,4],[4.8,6],[5.3,7.0]];

// ===== Figure 2, 4He =====
const H_yellowBR=[[6,4],[10,4],[10,6.5],[7,5.5]];
const H_orange=[[4,4],[4.3,4],[5.5,6.2],[6,6.9],[10,7.7],[10,10],[4,10]];
const H_red=[[4,4],[4.15,4],[5.4,6.6],[5.9,7.5],[10,8.5],[10,10],[4,10]];
const H_green=[[4,4],[4.1,4.3],[5.3,6.8],[5.8,7.7],[10,8.7],[10,10],[4,10]];
const H_navy=[[4,4.2],[5.2,7.0],[5.7,7.9],[10,9.0],[10,10],[4,10]];
const H_white=[[4,4.6],[4.6,5.6],[5.1,6.8],[5.6,8.1],[6.0,8.7],[6.6,9.0],[10,9.75],[10,10],[4,10]];
const H_c001=[[4.3,4],[5.4,6.8],[5.9,7.55],[10,8.35]];
const H_c010=[[4.35,4],[5.4,6.5],[6,7.0],[10,7.65]];
const H_c020=[[4.4,4],[5.4,6.2],[6,6.65],[10,7.3]];
const H_c030=[[4.45,4],[5.4,5.95],[6,6.4],[10,7.1]];
const H_c040=[[4.5,4],[5.4,5.75],[6,6.2],[10,6.9]];
const H_c050=[[4.55,4],[5.4,5.55],[6,5.95],[10,6.7]];
const H_c070=[[4.6,4],[5.3,5.3],[6,5.7],[10,6.45]];
const H_c090=[[4.7,4],[5.3,4.9],[6,5.3],[10,6.1]];
const H_c090b=[[7.0,4],[9,4.6],[10,5.1]];
const H_c070b=[[8.5,4],[10,4.6]];

// ===== Figure 3: radiation entropy contours =====
const F3_T=[4,5,6,7,8,9,10];
const F3_LEVELS=['-3','-2','-1','0','1','2','3','4'];
const F3_Lm3=[9.9,10.15,10.4,10.6,10.75,10.9,11.05];
const F3_Lm2=[8.93,9.2,9.45,9.65,9.8,9.95,10.08];
const F3_Lm1=[7.93,8.2,8.45,8.65,8.8,8.95,9.08];
const F3_L0=[6.93,7.2,7.45,7.65,7.8,7.95,8.08];
const F3_L1=[5.93,6.2,6.45,6.65,6.8,6.95,7.08];
const F3_L2=[4.93,5.2,5.45,5.65,5.8,5.95,6.08];
const F3_L3=[3.9,4.2,4.45,4.65,4.8,4.95,5.1];
const F3_L4=[2.9,3.2,3.45,3.65,3.8,3.95,4.1];
const F3_LABEL_T=[4.35,6.15,8.0,9.85];

const NS='http://www.w3.org/2000/svg';
const svg=document.getElementById('charts');
const defs=svg.querySelector('defs');
function E(tag,attrs,parent){const e=document.createElementNS(NS,tag);for(const k in attrs)e.setAttribute(k,attrs[k]);parent.appendChild(e);return e;}
function ptsStr(arr,sx,sy,expand){return arr.map(q=>{let t=q[0],r=q[1];if(expand){if(t<=4)t=3.5;if(t>=10)t=10.5;if(r<=4)r=3.5;if(r>=10)r=10.5;}return sx(t).toFixed(1)+','+sy(r).toFixed(1);}).join(' ');}
function supText(parent,x,y,base,exp,size,anchor){
  const t=E('text',{x:x,y:y,'font-size':size,'font-family':'Liberation Sans, sans-serif','text-anchor':anchor||'start',fill:'#222'},parent);
  t.appendChild(document.createTextNode(base));
  const s=E('tspan',{'font-size':size*0.65,dy:-size*0.4},t);
  s.textContent=exp;
  return t;
}

const PANELS=[
 {name:'fig1-ye0490',x:1972,y:115,w:273,h:251,bg:'#22d6dc',cb:'cbNiFe',cbx:2252,cbTitle:'Ni/Fe',cbLabels:CB_NIFE_EXP,tag:'Ye = 0.490',iso:null,
  layers:[[A_corner,'#0a4cb4',9],[A_green,'#2fb440',3],[A_light,'#30cc58',2],[A_top,'#2ec458',2],[A_olive,'#468c2a',6],[A_red,'#943412',6],[A_low,'#4a8830',2],[A_navy,'#1a64c8',3],[A_navyCore,'#0c1878',6]],
  contours:[[A_c013,'0.13',6,0],[A_c027,'0.27',4,0],[A_cTop,'0.13',3,0],[A_cLow,'0.27',4,0],[A_cDash,'',0,1]],scatter:true},
 {name:'fig1-ye0495',x:2365,y:115,w:273,h:251,bg:'#22d6dc',cb:'cbNiFe',cbx:2645,cbTitle:'Ni/Fe',cbLabels:CB_NIFE_EXP,tag:'Ye = 0.495',iso:null,
  layers:[[B_corner,'#0a4cb4',9],[B_green,'#1ec454',3],[B_upper,'#30d060',2],[B_inner,'#24a83c',6],[B_red,'#9a3a12',6],[B_low,'#3c8a2c',2],[B_navy,'#1a64c8',3],[B_navyCore,'#0c1878',6]],
  contours:[[B_c013,'0.13',6,0],[B_c027,'0.27',3,0],[B_cR1,'0.13',3,0],[B_cR2,'0.27',3,0],[B_cDash,'',0,1]],scatter:false},
 {name:'fig1-ye0497',x:1972,y:474,w:273,h:251,bg:'#22d6dc',cb:'cbNiFe',cbx:2252,cbTitle:'Ni/Fe',cbLabels:CB_NIFE_EXP,tag:'Ye = 0.497',iso:null,
  layers:[[C_corner,'#0a4cb4',9],[C_green,'#22d070',4],[C_inner,'#26a840',6],[C_red,'#9a3a12',6],[C_navy,'#1a64c8',4],[C_navyCore,'#0c1878',6]],
  contours:[[C_c013,'0.13',5,0],[C_c027,'0.27',4,0],[C_c013b,'0.13',1,0],[C_cDash,'',0,1]],scatter:false},
 {name:'fig1-ye0499',x:2365,y:474,w:273,h:251,bg:'#22d6dc',cb:'cbNiFe',cbx:2645,cbTitle:'Ni/Fe',cbLabels:CB_NIFE_EXP,tag:'Ye = 0.499',iso:null,
  layers:[[D_corner,'#0a4cb4',9],[D_wedge,'#1aa2d8',9],[D_band,'#1a8ad0',6],[D_navy,'#1650c0',3],[D_navyCore,'#0c1878',6],[D_green,'#30b040',3],[D_red,'#8a3a14',4]],
  contours:[[D_c1,'0.27',3,0],[D_c2,'0.13',3,0]],scatter:false},
 {name:'fig2-ni56',x:2895,y:114,w:274,h:250,bg:'#f8dc00',cb:'cbMass',cbx:3176,cbTitle:'mass fraction',cbLabels:CB_MASS_EXP,tag:null,iso:['56','Ni'],
  layers:[[EDGE_orange,'#f0a000',6],[EDGE_red,'#d83a10',3],[EDGE_green,'#10905a',2],[EDGE_navy,'#0c1838',2],[EDGE_white,'#ffffff',0],[E_lowOrange,'#ef8a00',6],[E_lowRed,'#d83a10',6],[E_ring,'#108c5c',3],[E_navyRing,'#0c1838',2],[E_hole,'#ffffff',0],[E_brGreen,'#10905a',3],[E_brNavy,'#101a40',2]],
  contours:[[E_c010,'0.10',3,0],[E_c030,'0.30',4,0],[E_c037,'0.37',3,0],[E_c039,'0.39',3,0],[E_cTop,'0.37',2,0],[E_cS1,'0.10',1,0],[E_cS2,'0.30',1,0]],scatter:false},
 {name:'fig2-fe54',x:3290,y:114,w:274,h:250,bg:'#f8dc00',cb:'cbMass',cbx:3571,cbTitle:'mass fraction',cbLabels:CB_MASS_EXP,tag:null,iso:['54','Fe'],
  layers:[[EDGE_orange,'#f0a000',6],[EDGE_red,'#d83a10',3],[EDGE_green,'#10905a',2],[EDGE_navy,'#0c1838',2],[EDGE_white,'#ffffff',0],[F_edge,'#e05010',2],[F_green,'#12924a',2],[F_red,'#d83a14',3],[F_redR,'#d8401a',4],[F_hole,'#ffffff',0],[F_br,'#103040',2]],
  contours:[[F_c04,'0.4',4,0],[F_c03,'0.3',4,0],[F_c02,'0.2',4,0],[F_cTop,'0.4',1,0],[F_cS,'',0,0]],scatter:false},
 {name:'fig2-ni58',x:2895,y:469,w:274,h:252,bg:'#f6d000',cb:'cbMass',cbx:3176,cbTitle:'mass fraction',cbLabels:CB_MASS_EXP,tag:null,iso:['58','Ni'],
  layers:[[G_orangeTL,'#f0b000',9],[G_yellow,'#f8e600',9],[EDGE_orange,'#f0a000',6],[EDGE_red,'#d83a10',3],[EDGE_green,'#10905a',2],[EDGE_navy,'#0c1838',2],[EDGE_white,'#ffffff',0],[G_red,'#d84010',3],[G_green,'#10905a',4],[G_navy,'#0c1838',4],[G_white,'#ffffff',0],[G_ring,'#10905a',2],[G_hole,'#ffffff',0]],
  contours:[[G_c02,'0.2',3,0],[G_c03,'0.3',3,0],[G_c04,'0.4',3,0],[G_c05,'0.5',3,0],[G_c05b,'0.5',1,0],[G_cl1,'0.5',1,0],[G_cl2,'0.3',5,0],[G_cl3,'0.2',5,0],[G_cS,'',0,0]],scatter:false},
 {name:'fig2-he4',x:3290,y:469,w:274,h:252,bg:'#f8de00',cb:'cbMass',cbx:3571,cbTitle:'mass fraction',cbLabels:CB_MASS_EXP,tag:null,iso:['4','He'],
  layers:[[H_yellowBR,'#fff200',9],[H_orange,'#f0a000',9],[H_red,'#d83a10',3],[H_green,'#10905a',4],[H_navy,'#0c1a44',3],[H_white,'#ffffff',0]],
  contours:[[H_c001,'0.01',2,0],[H_c010,'0.10',2,0],[H_c020,'0.20',2,0],[H_c030,'0.30',2,0],[H_c040,'0.40',2,0],[H_c050,'0.50',2,0],[H_c070,'0.70',2,0],[H_c090,'0.90',2,0],[H_c090b,'0.90',1,0],[H_c070b,'0.70',0,0]],scatter:false}
];

function drawPanel(P){
  const g=E('g',{},svg);
  
  
  const sx=t=>P.x+(t-4)/6*P.w, sy=r=>P.y+P.h-(r-4)/6*P.h;
  const cp=E('clipPath',{id:'cp-'+P.name},defs);
  E('rect',{x:P.x,y:P.y,width:P.w,height:P.h},cp);
  const inner=E('g',{'clip-path':'url(#cp-'+P.name+')'},g);
  const bg=E('rect',{x:P.x,y:P.y,width:P.w,height:P.h,fill:P.bg},inner);
  
  
  P.layers.forEach(L=>{
    const a={points:ptsStr(L[0],sx,sy,L[2]>0),fill:L[1]};
    if(L[2]>0)a.filter='url(#b'+L[2]+')';
    const p=E('polygon',a,inner);
    
    
  });
  if(P.scatter){
    const band=E('polyline',{points:BAND_T.map((t,i)=>sx(t)+','+sy(BAND_RHO[i])).join(' '),fill:'none',stroke:'#ffff10','stroke-width':11,'stroke-linecap':'round'},inner);
    
    
    YEL_T.forEach((t,i)=>{const x=sx(t),y=sy(YEL_RHO[i]);
      const m=E('polygon',{points:`${x},${y-3} ${x-3},${y+2} ${x+3},${y+2}`,fill:'#ffff10'},inner);
      
      });
    PINK_T.forEach((t,i)=>{const x=sx(t),y=sy(PINK_RHO[i]);
      const m=E('rect',{x:x-3,y:y-3,width:6,height:5,fill:'#ff10ff'},inner);
      
      });
  }
  P.contours.forEach(C=>{
    const pl=E('polyline',{points:ptsStr(C[0],sx,sy,false),fill:'none',stroke:'#000','stroke-width':1,'stroke-dasharray':C[3]?'4,2':'none'},inner);
    
    
    if(C[1]){const q=C[0][C[2]];
      const t=E('text',{x:sx(q[0]),y:sy(q[1])-1.5,'font-size':6.5,'font-family':'Liberation Sans, sans-serif','text-anchor':'middle',fill:'#000'},inner);
      t.textContent=C[1];
      
      }
  });
  const fr=E('rect',{x:P.x,y:P.y,width:P.w,height:P.h,fill:'none',stroke:'#000','stroke-width':1.3},g);
  
  
  let d='';
  for(let k=0;k<=30;k++){const v=4+k*0.2;const major=k%5===0;const L=major?5:2.5;
    const x=sx(v),y=sy(v);
    d+=`M${x},${P.y+P.h}v${-L}M${x},${P.y}v${L}M${P.x},${y}h${L}M${P.x+P.w},${y}h${-L}`;}
  const ticks=E('path',{d:d,stroke:'#000','stroke-width':1,fill:'none'},g);
  
  
  T_TICKS.forEach(v=>{const t=E('text',{x:sx(v),y:P.y+P.h+15,'font-size':9.5,'font-family':'Liberation Sans, sans-serif','text-anchor':'middle',fill:'#222'},g);
    t.textContent=String(v);
    
    });
  RHO_TICKS.forEach(v=>{const t=E('text',{x:P.x-4,y:sy(v)+3,'font-size':9.5,'font-family':'Liberation Sans, sans-serif','text-anchor':'end',fill:'#222'},g);
    t.textContent=String(v);
    
    });
  const xt=E('text',{x:P.x+P.w/2,y:P.y+P.h+30,'font-size':9.5,'font-family':'Liberation Sans, sans-serif','text-anchor':'middle',fill:'#222'},g);
  xt.appendChild(document.createTextNode('Peak Temperature (T'));
  const xs=E('tspan',{'font-size':6.5,dy:2},xt); xs.textContent='9';
  const xe=E('tspan',{dy:-2},xt); xe.textContent=')';
  
  
  const yt=E('text',{x:0,y:0,'font-size':9.5,'font-family':'Liberation Sans, sans-serif','text-anchor':'middle',fill:'#222',transform:`translate(${P.x-22},${P.y+P.h/2}) rotate(-90)`},g);
  yt.appendChild(document.createTextNode('Log Peak Density (g cm'));
  const ys=E('tspan',{'font-size':6.5,dy:-3},yt); ys.textContent='-3';
  const ye=E('tspan',{dy:3},yt); ye.textContent=')';
  
  
  const cb=E('rect',{x:P.cbx,y:P.y,width:20,height:P.h,fill:'url(#'+P.cb+')',stroke:'#bbb','stroke-width':0.5},g);
  
  
  P.cbLabels.forEach((ex,i)=>{const t=supText(g,P.cbx+25,P.y+4+i*(P.h-8)/(P.cbLabels.length-1)+3,'10',ex,8.5);
    
    });
  const ct=E('text',{x:0,y:0,'font-size':9,'font-family':'Liberation Sans, sans-serif','text-anchor':'middle',fill:'#222',transform:`translate(${P.cbx+58},${P.y+P.h/2}) rotate(-90)`},g);
  ct.textContent=P.cbTitle;
  
  
  if(P.tag){const t=E('text',{x:sx(4.45),y:sy(9.55),'font-size':9,'font-family':'Liberation Sans, sans-serif',fill:'#111'},g);
    t.textContent=P.tag;
    
    }
  if(P.iso){const t=E('text',{x:sx(5.3),y:sy(9.4),'font-size':10,'font-weight':'bold','font-family':'Liberation Sans, sans-serif',fill:'#111'},g);
    const s=E('tspan',{'font-size':6,dy:-4},t); s.textContent=P.iso[0];
    const n=E('tspan',{dy:4},t); n.textContent=P.iso[1];
    
    }
}
PANELS.forEach(drawPanel);

// ===== Figure 3 =====
(function(){
  const X0=3834,Y0=119,W=296,H=217;
  const sx=t=>X0+(t-4)/6*W, sy=r=>Y0+H-(r-4)/6*H;
  const g=E('g',{},svg);
  
  
  const cp=E('clipPath',{id:'cp-f3'},defs);
  E('rect',{x:X0,y:Y0,width:W,height:H},cp);
  const inner=E('g',{'clip-path':'url(#cp-f3)'},g);
  const series=[F3_Lm3,F3_Lm2,F3_Lm1,F3_L0,F3_L1,F3_L2,F3_L3,F3_L4];
  series.forEach((arr,j)=>{
    const pl=E('polyline',{points:F3_T.map((t,i)=>sx(t).toFixed(1)+','+sy(arr[i]).toFixed(1)).join(' '),fill:'none',stroke:'#000','stroke-width':1.6},inner);
    
    
    F3_LABEL_T.forEach(lt=>{
      let i=Math.min(5,Math.floor(lt-4));const f=(lt-F3_T[i]);const r=arr[i]+(arr[i+1]-arr[i])*f;
      if(r<4.15||r>9.9)return;
      const bgR=E('rect',{x:sx(lt)-5,y:sy(r)-7,width:10,height:13,fill:'#fff'},inner);
      
      
      const t=E('text',{x:sx(lt),y:sy(r)+5,'font-size':13,'font-family':'Liberation Serif, serif','text-anchor':'middle',fill:'#000'},inner);
      t.textContent=F3_LEVELS[j];
      
      
    });
  });
  const fr=E('rect',{x:X0,y:Y0,width:W,height:H,fill:'none',stroke:'#000','stroke-width':1},g);
  
  
  let d='';
  for(let k=0;k<=30;k++){const v=4+k*0.2;const L=k%5===0?4:2;d+=`M${sx(v)},${Y0+H}v${-L}M${sx(v)},${Y0}v${L}M${X0},${sy(v)}h${L}M${X0+W},${sy(v)}h${-L}`;}
  const tk=E('path',{d:d,stroke:'#000','stroke-width':0.8,fill:'none'},g);
  
  
  T_TICKS.forEach(v=>{const t=E('text',{x:sx(v),y:Y0+H+13,'font-size':13,'font-family':'Liberation Sans, sans-serif','text-anchor':'middle',fill:'#111'},g);
    t.textContent=String(v);
    
    });
  RHO_TICKS.forEach(v=>{const t=E('text',{x:X0-3,y:sy(v)+5,'font-size':13,'font-family':'Liberation Sans, sans-serif','text-anchor':'end',fill:'#111'},g);
    t.textContent=String(v);
    
    });
  const xt=E('text',{x:X0+W/2,y:Y0+H+27,'font-size':13,'font-family':'Liberation Serif, serif','text-anchor':'middle',fill:'#111'},g);
  xt.appendChild(document.createTextNode('Peak temperature ('));
  const it=E('tspan',{'font-style':'italic'},xt); it.textContent='T';
  const s9=E('tspan',{'font-size':9,dy:3},xt); s9.textContent='9';
  const cl=E('tspan',{dy:-3},xt); cl.textContent=')';
  
  
  const yt=E('text',{x:0,y:0,'font-size':13,'font-family':'Liberation Serif, serif','text-anchor':'middle',fill:'#111',transform:`translate(${X0-24},${Y0+H/2}) rotate(-90)`},g);
  yt.appendChild(document.createTextNode('Log peak density (g cm'));
  const e3=E('tspan',{'font-size':9,dy:-5},yt); e3.textContent='−3';
  const c3=E('tspan',{dy:5},yt); c3.textContent=')';
  
  
})();
</script>
</body></html>
